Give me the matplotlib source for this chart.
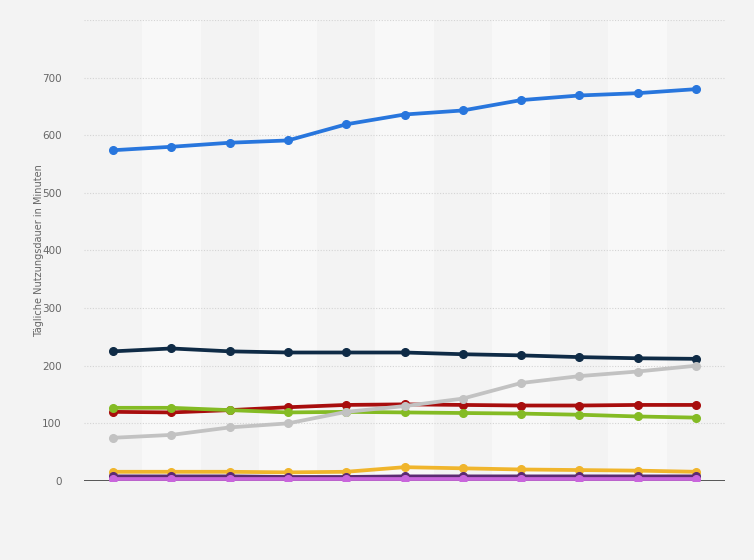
import numpy as np
import matplotlib
matplotlib.use('Agg')
import matplotlib.pyplot as plt

# Data (11 periods, no x labels shown)
periods = list(range(11))
blue = [574, 580, 587, 591, 619, 636, 643, 661, 669, 673, 680]
navy = [225, 230, 225, 223, 223, 223, 220, 218, 215, 213, 212]
grey = [75, 80, 93, 100, 120, 130, 143, 170, 182, 190, 200]
red = [120, 119, 123, 128, 132, 133, 132, 131, 131, 132, 132]
green = [127, 127, 123, 119, 120, 119, 118, 117, 115, 112, 110]
yellow = [16, 16, 16, 15, 16, 24, 22, 20, 19, 18, 16]
purple = [8, 8, 8, 7, 7, 8, 8, 8, 8, 8, 8]
violet = [3, 3, 3, 3, 3, 3, 3, 3, 3, 3, 3]

series = [
    (blue, '#2876dd'),
    (navy, '#0f2b46'),
    (red, '#a80d0d'),
    (green, '#84bb24'),
    (grey, '#c2c2c2'),
    (yellow, '#f0b52c'),
    (purple, '#5b2b72'),
    (violet, '#c965dc'),
]

fig = plt.figure(figsize=(7.54, 5.6), dpi=100)
fig.patch.set_facecolor('#f3f3f3')
ax = fig.add_axes([84 / 754, 1 - 481 / 560, 641 / 754, 461 / 560])
ax.set_facecolor('#f3f3f3')

# alternating column bands
for i in periods:
    if i % 2 == 1:
        ax.axvspan(i - 0.5, i + 0.5, color='#f8f8f8', zorder=0, lw=0)

for vals, col in series:
    ax.plot(periods, vals, color=col, lw=2.7, marker='o', ms=5.5,
            solid_capstyle='round', zorder=3)

ax.set_xlim(-0.5, 10.5)
ax.set_ylim(0, 800)
ax.set_yticks(range(0, 801, 100))
ax.set_yticklabels([str(v) if v < 800 else '' for v in range(0, 801, 100)])
ax.set_xticks([])
ax.grid(axis='y', color='#d4d4d4', linestyle=(0, (1, 1.5)), lw=0.8, zorder=1)
ax.axhline(0, color='#2b2b2b', lw=1.1, zorder=2)
for s in ax.spines.values():
    s.set_visible(False)
ax.tick_params(axis='y', length=0, pad=16, labelsize=7.5, labelcolor='#666666')
ax.set_ylabel('Tägliche Nutzungsdauer in Minuten', fontsize=7, color='#666666')
ax.yaxis.set_label_coords(-(84 - 44) / 641, 0.5)

plt.savefig('out.png', dpi=100, facecolor=fig.get_facecolor())
